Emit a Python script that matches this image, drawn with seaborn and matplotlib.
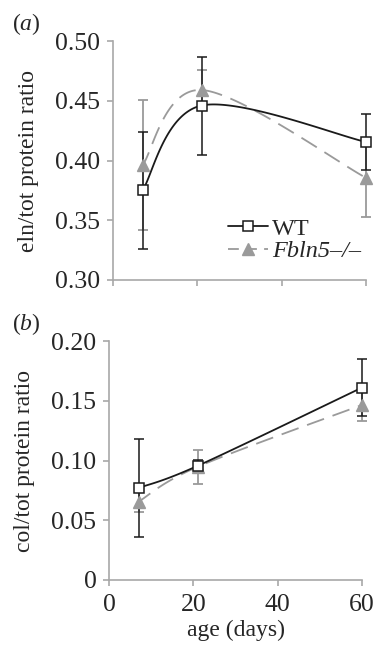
import numpy as np
import pandas as pd
import matplotlib
matplotlib.use("Agg")
import matplotlib.pyplot as plt
import seaborn as sns
from matplotlib.lines import Line2D

# ---- data ----
age = [7, 21, 60]
eln_wt = [0.375, 0.446, 0.4155]
eln_wt_err = [0.049, 0.041, 0.0235]
eln_ko = [0.396, 0.459, 0.3855]
eln_ko_err = [0.0545, 0.017, 0.0325]
col_wt = [0.077, 0.0955, 0.161]
col_wt_err = [0.041, 0.005, 0.024]
col_ko = [0.0655, 0.0947, 0.1465]
col_ko_err = [0.0085, 0.0145, 0.0135]
series_labels = ["WT", "Fbln5\u2013/\u2013"]
x_ticks = [0, 20, 40, 60]
top_yticks = [0.30, 0.35, 0.40, 0.45, 0.50]
bot_yticks = [0, 0.05, 0.10, 0.15, 0.20]

sns.set_theme(style="white")
plt.rcParams['font.family'] = ['Liberation Serif', 'DejaVu Serif']
plt.rcParams['mathtext.fontset'] = 'custom'
plt.rcParams['mathtext.rm'] = 'Liberation Serif'
plt.rcParams['mathtext.it'] = 'Liberation Serif:italic'

BLACK = "#1a1a1a"
GRAY = "#9a9a9a"
AXC = "#a8a8a8"
FS_TICK = 18.5
FS_LAB = 17
FS_LEG = 17.5


def smooth(x, y, n=60):
    P = np.column_stack([np.asarray(x, float), np.asarray(y, float)])
    out = []
    for i in range(len(P) - 1):
        p0, p1 = P[i], P[i + 1]
        pm = P[i - 1] if i > 0 else P[i]
        p2 = P[i + 2] if i + 2 < len(P) else P[i + 1]
        c1 = p0 + (p1 - pm) / 6
        c2 = p1 - (p2 - p0) / 6
        t = np.linspace(0, 1, n)[:, None]
        seg = (1 - t) ** 3 * p0 + 3 * (1 - t) ** 2 * t * c1 + 3 * (1 - t) * t ** 2 * c2 + t ** 3 * p1
        out.append(seg if i == 0 else seg[1:])
    s = np.vstack(out)
    return s[:, 0], s[:, 1]


fig = plt.figure(figsize=(3.74, 6.5), dpi=100)
ax1 = fig.add_axes([113 / 374, 1 - 280 / 650, (366 - 113) / 374, (280 - 41) / 650])
ax2 = fig.add_axes([109 / 374, 1 - 580 / 650, (362 - 109) / 374, (580 - 341) / 650])

dash = (10, 5)


def unclip(container):
    for art in container.get_children():
        art.set_clip_on(False)


def draw(ax, wt, wt_err, ko, ko_err):
    xs, ys = smooth(age, ko)
    sns.lineplot(x=xs, y=ys, sort=False, estimator=None, ax=ax, color=GRAY, lw=1.3,
                 dashes=False, linestyle=(2, dash), zorder=2)
    xs, ys = smooth(age, wt)
    sns.lineplot(x=xs, y=ys, sort=False, estimator=None, ax=ax, color=BLACK, lw=1.3, zorder=3)
    for ln in ax.lines:
        ln.set_clip_on(False)
    unclip(ax.errorbar(age, ko, yerr=ko_err, fmt='none', ecolor=GRAY, elinewidth=1.3, capsize=3.5,
                       capthick=1.3, zorder=2.5))
    unclip(ax.errorbar(age, wt, yerr=wt_err, fmt='none', ecolor=BLACK, elinewidth=1.1, capsize=3.5,
                       capthick=1.1, zorder=3.5))
    ax.plot(age, ko, ls='none', marker='^', ms=8, mfc=GRAY, mec=GRAY, zorder=4, clip_on=False)
    ax.plot(age, wt, ls='none', marker='s', ms=7.5, mfc='white', mec=BLACK, mew=1.1, zorder=5,
            clip_on=False)


draw(ax1, eln_wt, eln_wt_err, eln_ko, eln_ko_err)
draw(ax2, col_wt, col_wt_err, col_ko, col_ko_err)

for ax, yt in ((ax1, top_yticks), (ax2, bot_yticks)):
    sns.despine(ax=ax)
    for s in ("left", "bottom"):
        ax.spines[s].set_color(AXC)
        ax.spines[s].set_linewidth(1.2)
    ax.set_xlim(0, 60)
    ax.set_ylim(yt[0], yt[-1])
    ax.set_xticks(x_ticks)
    ax.set_yticks(yt)
    ax.tick_params(axis='both', direction='out', length=4, width=1.2, color=AXC,
                   labelsize=FS_TICK, left=True, bottom=True)
    ax.tick_params(axis='y', pad=5)
    ax.tick_params(axis='x', pad=6)

ax1.set_yticklabels([f"{v:.2f}" for v in top_yticks])
ax1.set_xticklabels([])
ax2.set_yticklabels(["0"] + [f"{v:.2f}" for v in bot_yticks[1:]])
ax2.set_xticklabels([str(v) for v in x_ticks])

ax1.set_ylabel("eln/tot protein ratio", fontsize=FS_LAB, labelpad=12)
ax2.set_ylabel("col/tot protein ratio", fontsize=FS_LAB, labelpad=12)
ax2.set_xlabel("age (days)", fontsize=FS_LAB, labelpad=3)

handles = [
    Line2D([], [], color=BLACK, lw=1.3, marker='s', ms=7.5, mfc='white', mec=BLACK, mew=1.1),
    Line2D([], [], color=GRAY, lw=1.3, linestyle=(0, (6, 4)), marker='^', ms=8, mfc=GRAY, mec=GRAY),
]
leg = fig.legend(handles, series_labels, loc='center left',
                 bbox_to_anchor=(228 / 374, 1 - 240 / 650),
                 frameon=False, fontsize=FS_LEG, handlelength=1.65, handletextpad=0.15,
                 labelspacing=0.0, borderpad=0.0, borderaxespad=0.0)
leg.get_texts()[1].set_fontstyle('italic')

fig.text(12 / 374, 1 - 11 / 650, r"($\it{a}$)", fontsize=FS_LAB, va='top', ha='left')
fig.text(12 / 374, 1 - 311 / 650, r"($\it{b}$)", fontsize=FS_LAB, va='top', ha='left')

fig.savefig("out.png", dpi=100)
